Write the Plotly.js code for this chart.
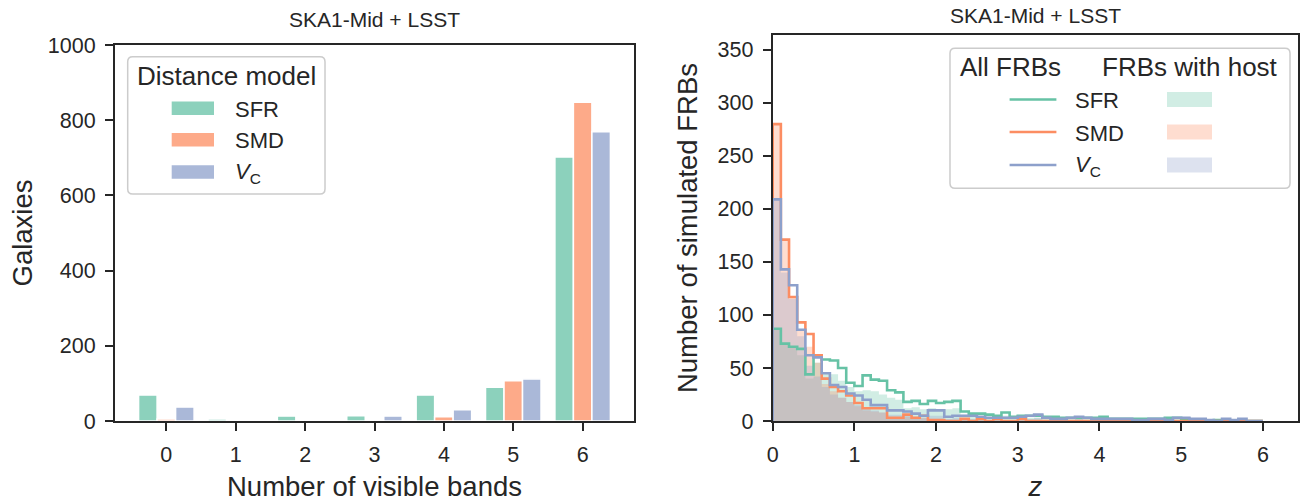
<!DOCTYPE html>
<html><head><meta charset="utf-8">
<script src="https://cdn.plot.ly/plotly-3.0.1.min.js"></script>
<style>body{margin:0;background:#fff;} #chart{width:1314px;height:502px;}</style>
</head><body><div id="chart"></div>
<script>
// ---------- data: left panel (galaxies per number of visible bands) ----------
const bands = [0, 1, 2, 3, 4, 5, 6];
const galaxiesSFR = [69, 5, 13, 14, 69, 90, 702];
const galaxiesSMD = [5, 0, 0, 0, 11, 107, 848];
const galaxiesVC  = [37, 0, 0, 13, 30, 112, 769];

// ---------- data: right panel (redshift histograms, bin lower edges) ----------
const zBins = [0.0,0.1,0.2,0.3,0.4,0.5,0.6,0.7,0.8,0.9,1.0,1.1,1.2,1.3,1.4,1.5,1.6,1.7,1.8,1.9,
               2.0,2.1,2.2,2.3,2.4,2.5,2.6,2.7,2.8,2.9,3.0,3.1,3.2,3.3,3.4,3.5,3.6,3.7,3.8,3.9,
               4.0,4.1,4.2,4.3,4.4,4.5,4.6,4.7,4.8,4.9,5.0,5.1,5.2,5.3,5.4,5.5,5.6,5.7,5.8,5.9];
const allSFR = [87,73,70,68,44,61,58,57,50,36,33,43,39,38,29,27,18,19,16,19,
                17,18,19,9,7,7,6,5,8,4,5,5,5,4,4,3,3,3,3,3,
                4,2,2,2,2,2,2,2,3,3,2,1,0,0,1,0,0,0,0,0];
const allSMD = [280,171,117,93,82,62,40,32,28,24,17,12,12,12,3,3,6,3,5,1,
                1,0,0,2,0,2,0,2,0,0,2,0,0,0,0,0,0,0,0,0,
                0,0,0,0,0,0,0,0,0,0,0,0,0,0,0,0,0,0,0,0];
const allVC  = [209,143,128,86,62,60,45,34,32,26,24,20,15,15,10,10,9,7,5,10,
                10,4,5,5,5,4,3,3,3,3,4,5,6,3,2,2,3,4,3,2,
                2,2,2,2,1,1,2,2,1,3,3,2,2,1,0,2,1,2,0,0];
const hostSFR = [87,73,70,62,40,55,45,44,38,32,28,29,28,25,22,20,12,13,11,12,
                 10,11,12,6,5,4,4,3,5,2,3,3,3,2,2,2,2,2,2,2,
                 2,1,1,1,1,1,1,1,2,2,1,1,0,0,0,0,0,0,0,0];
const hostSMD = [280,170,117,85,70,55,35,28,22,18,14,10,9,8,3,3,4,2,3,1,
                 1,0,0,1,0,1,0,1,0,0,1,0,0,0,0,0,0,0,0,0,
                 0,0,0,0,0,0,0,0,0,0,0,0,0,0,0,0,0,0,0,0];
const hostVC  = [209,140,115,80,52,42,32,25,22,18,15,12,10,8,6,6,5,4,3,5,
                 5,2,3,2,2,2,1,1,1,1,2,2,3,1,1,1,1,2,1,1,
                 1,1,1,1,0,0,1,1,0,1,1,1,1,0,0,1,0,1,0,0];

const modelNames = ['SFR', 'SMD', '<i>V</i><sub>C</sub>'];
const panelTitle = 'SKA1-Mid + LSST';

// ---------- styles ----------
const W = 1314, H = 502;
const FONT = 'Liberation Sans, Arial, Helvetica, sans-serif';
const INK = '#262626';
const lineCols = ['#66c2a5', '#fc8d62', '#8da0cb'];
const barCols = ['rgba(102,194,165,0.75)', 'rgba(252,141,98,0.75)', 'rgba(141,160,203,0.75)'];
const fillCols = ['rgba(102,194,165,0.3)', 'rgba(252,141,98,0.3)', 'rgba(141,160,203,0.3)'];

const px = x => x / W;
const py = y => 1 - y / H;

function stepXY(counts) {
  const bw = zBins[1] - zBins[0];
  const xs = [zBins[0]], ys = [0];
  for (let i = 0; i < counts.length; i++) { xs.push(zBins[i]); ys.push(counts[i]); }
  const end = zBins[zBins.length - 1] + bw;
  xs.push(end); ys.push(counts[counts.length - 1]);
  xs.push(end); ys.push(0);
  return {xs, ys};
}

const traces = [];
[galaxiesSFR, galaxiesSMD, galaxiesVC].forEach((vals, i) => {
  traces.push({type: 'bar', x: bands, y: vals, name: modelNames[i], xaxis: 'x', yaxis: 'y',
    marker: {color: barCols[i], line: {color: '#ffffff', width: 1.5}}, showlegend: false});
});
[hostSFR, hostSMD, hostVC].forEach((vals, i) => {
  const s = stepXY(vals);
  traces.push({type: 'scatter', mode: 'lines', x: s.xs, y: s.ys, xaxis: 'x2', yaxis: 'y2',
    line: {shape: 'hv', width: 0, color: fillCols[i]}, fill: 'tozeroy', fillcolor: fillCols[i],
    name: modelNames[i] + ' host', showlegend: false});
});
[allSFR, allSMD, allVC].forEach((vals, i) => {
  const s = stepXY(vals);
  traces.push({type: 'scatter', mode: 'lines', x: s.xs, y: s.ys, xaxis: 'x2', yaxis: 'y2',
    line: {shape: 'hv', width: 2.6, color: lineCols[i]}, name: modelNames[i], showlegend: false});
});

function axisBase() {
  return {showline: true, mirror: true, linecolor: INK, linewidth: 2, showgrid: false, zeroline: false,
    ticks: 'outside', ticklen: 8, tickwidth: 2, tickcolor: INK, ticklabelstandoff: 5,
    tickfont: {family: FONT, size: 21.5, color: INK}};
}
const axTitle = (text, standoff) => ({text, font: {family: FONT, size: 27.5, color: INK}, standoff});

function roundRect(x0, y0, x1, y1, r) {
  const X = v => px(v).toFixed(5), Y = v => py(v).toFixed(5);
  return `M${X(x0 + r)},${Y(y0)} L${X(x1 - r)},${Y(y0)} Q${X(x1)},${Y(y0)} ${X(x1)},${Y(y0 + r)} ` +
    `L${X(x1)},${Y(y1 - r)} Q${X(x1)},${Y(y1)} ${X(x1 - r)},${Y(y1)} L${X(x0 + r)},${Y(y1)} ` +
    `Q${X(x0)},${Y(y1)} ${X(x0)},${Y(y1 - r)} L${X(x0)},${Y(y0 + r)} Q${X(x0)},${Y(y0)} ${X(x0 + r)},${Y(y0)} Z`;
}

const shapes = [], annotations = [];
const txt = (text, x, y, size, xanchor) => annotations.push({text, x: px(x), y: py(y), xref: 'paper', yref: 'paper',
  xanchor: xanchor || 'center', yanchor: 'middle', showarrow: false, font: {family: FONT, size, color: INK}});

// panel titles
txt(panelTitle, 374.5, 20, 21);
txt(panelTitle, 1035.5, 16, 21);

// left legend
shapes.push({type: 'path', xref: 'paper', yref: 'paper', path: roundRect(127.7, 56.7, 325, 194, 5),
  fillcolor: 'rgba(255,255,255,0.8)', line: {color: '#cccccc', width: 1.5}});
txt('Distance model', 226.5, 76, 26);
const lgY = [108.3, 139.8, 172];
barCols.forEach((c, i) => {
  shapes.push({type: 'rect', xref: 'paper', yref: 'paper', x0: px(171.7), x1: px(214), y0: py(lgY[i] - 6.8), y1: py(lgY[i] + 6.8),
    fillcolor: c, line: {width: 0}});
  txt(modelNames[i], 232.7, lgY[i] + 1, 22, 'left');
});

// right legend
shapes.push({type: 'path', xref: 'paper', yref: 'paper', path: roundRect(950, 48.3, 1290, 188.3, 5),
  fillcolor: 'rgba(255,255,255,0.8)', line: {color: '#cccccc', width: 1.5}});
txt('All FRBs', 1010, 67, 26);
txt('FRBs with host', 1190.4, 67, 26);
const rgY = [99.5, 132, 165];
lineCols.forEach((c, i) => {
  shapes.push({type: 'line', xref: 'paper', yref: 'paper', x0: px(1009.6), x1: px(1056.4), y0: py(rgY[i]), y1: py(rgY[i]),
    line: {color: c, width: 2.6}});
  shapes.push({type: 'rect', xref: 'paper', yref: 'paper', x0: px(1167), x1: px(1212), y0: py(rgY[i] - 7.5), y1: py(rgY[i] + 7.5),
    fillcolor: fillCols[i], line: {width: 0}});
  txt(modelNames[i], 1073.4, rgY[i] + 1, 22, 'left');
});

const layout = {
  width: W, height: H,
  margin: {l: 0, r: 0, t: 0, b: 0},
  paper_bgcolor: '#ffffff', plot_bgcolor: '#ffffff',
  font: {family: FONT, color: INK},
  showlegend: false,
  barmode: 'group', bargap: 0.2, bargroupgap: 0,
  xaxis: Object.assign(axisBase(), {domain: [px(115), px(634)], range: [-0.74, 6.74], tickvals: bands, anchor: 'y',
    title: axTitle('Number of visible bands', 13)}),
  yaxis: Object.assign(axisBase(), {domain: [1 - 421 / H, 1 - 45 / H], range: [0, 1000], dtick: 200, anchor: 'x',
    title: axTitle('Galaxies', 7)}),
  xaxis2: Object.assign(axisBase(), {domain: [px(772.7), px(1298)], range: [0, 6.43], dtick: 1, anchor: 'y2',
    title: axTitle('<i>z</i>', 13)}),
  yaxis2: Object.assign(axisBase(), {domain: [1 - 421 / H, 1 - 35 / H], range: [0, 364], dtick: 50, anchor: 'x2',
    title: axTitle('Number of simulated FRBs', 12)}),
  shapes, annotations
};

Plotly.newPlot('chart', traces, layout, {staticPlot: true, displayModeBar: false});
</script>
</body></html>
